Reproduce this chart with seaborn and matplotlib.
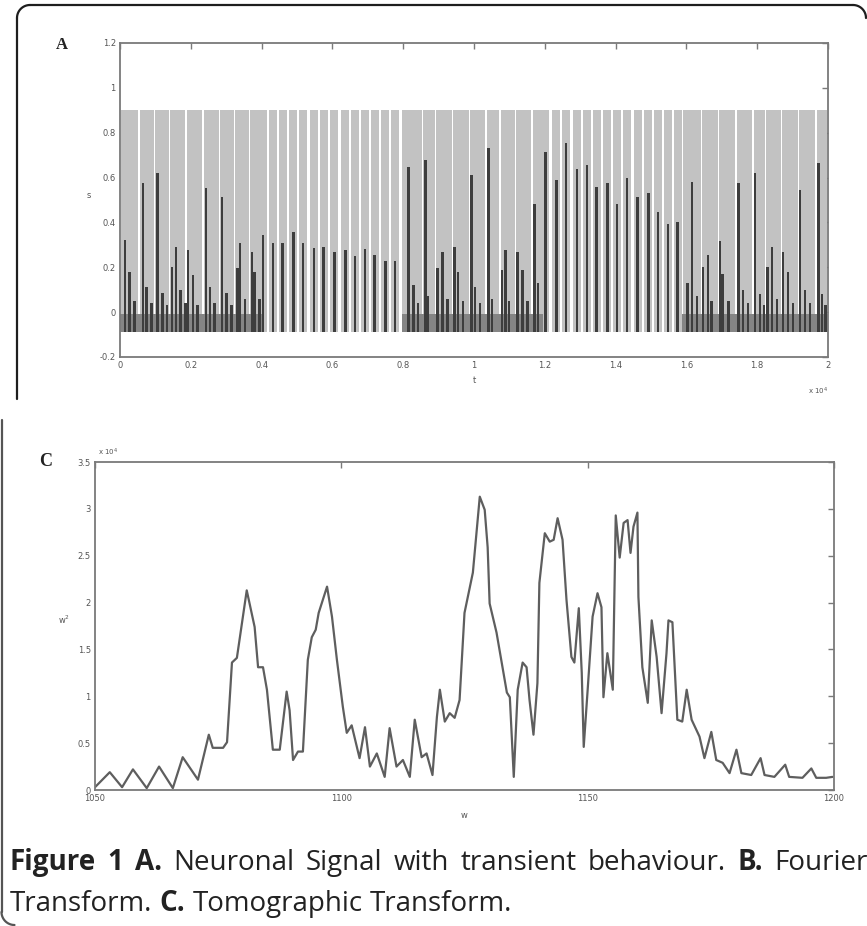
import numpy as np
import pandas as pd
import matplotlib
matplotlib.use("Agg")
import matplotlib.pyplot as plt
import seaborn as sns

sns.set_theme(style="white")
plt.rcParams['font.family'] = ['DejaVu Sans']

# ---------------- Panel A: neuronal signal (t in units of 1e4) ----------------
spike_peak = 0.9
rest_level = -0.09

# bursting stretches: grey envelope of each burst (start, end)
burst_on = [0.004, 0.056, 0.100, 0.142, 0.188, 0.238, 0.283, 0.326, 0.368,
            0.797, 0.856, 0.894, 0.941, 0.989, 1.036, 1.076, 1.120, 1.166,
            1.590, 1.644, 1.692, 1.742, 1.790, 1.826, 1.870, 1.918, 1.968]
burst_off = [0.050, 0.096, 0.138, 0.183, 0.233, 0.279, 0.322, 0.364, 0.398,
             0.852, 0.890, 0.937, 0.985, 1.032, 1.072, 1.116, 1.162, 1.193,
             1.640, 1.688, 1.738, 1.786, 1.822, 1.866, 1.914, 1.964, 1.998]

# tonic stretches: single spikes
tonic_t = [0.404, 0.432, 0.460, 0.489, 0.517, 0.548, 0.576, 0.605, 0.636, 0.664,
           0.692, 0.720, 0.749, 0.777,
           1.201, 1.232, 1.260, 1.291, 1.319, 1.347, 1.376, 1.404, 1.432, 1.463,
           1.492, 1.520, 1.548, 1.576]
tonic_h = [0.343, 0.31, 0.31, 0.357, 0.31, 0.285, 0.29, 0.27, 0.275, 0.25,
           0.28, 0.255, 0.23, 0.23,
           0.715, 0.59, 0.755, 0.64, 0.655, 0.56, 0.575, 0.48, 0.60, 0.515,
           0.53, 0.445, 0.395, 0.40]

# dark sub-threshold events inside the bursts
burst_t = [0.014, 0.028, 0.042, 0.065, 0.076, 0.090, 0.107, 0.121, 0.133,
           0.147, 0.158, 0.172, 0.184, 0.192, 0.206, 0.220, 0.243, 0.254, 0.268,
           0.288, 0.302, 0.316, 0.331, 0.339, 0.353, 0.373, 0.381, 0.393,
           0.814, 0.828, 0.842, 0.862, 0.870, 0.898, 0.910, 0.924, 0.946, 0.955,
           0.969, 0.994, 1.003, 1.017, 1.040, 1.051, 1.079, 1.088, 1.099, 1.124,
           1.136, 1.150, 1.172, 1.181,
           1.602, 1.616, 1.630, 1.647, 1.661, 1.672, 1.695, 1.703, 1.718, 1.746,
           1.760, 1.774, 1.794, 1.808, 1.819, 1.828, 1.842, 1.856, 1.873, 1.887,
           1.901, 1.921, 1.935, 1.949, 1.972, 1.983, 1.994]
burst_h = [0.32, 0.18, 0.05, 0.576, 0.11, 0.04, 0.62, 0.085, 0.03,
           0.20, 0.29, 0.10, 0.04, 0.277, 0.166, 0.03, 0.554, 0.11, 0.04,
           0.515, 0.085, 0.03, 0.197, 0.31, 0.06, 0.27, 0.18, 0.06,
           0.648, 0.12, 0.04, 0.68, 0.07, 0.197, 0.27, 0.06, 0.29, 0.18,
           0.05, 0.61, 0.11, 0.04, 0.73, 0.06, 0.19, 0.277, 0.05, 0.27,
           0.19, 0.05, 0.48, 0.13,
           0.13, 0.58, 0.07, 0.20, 0.255, 0.05, 0.315, 0.17, 0.05, 0.575,
           0.10, 0.04, 0.62, 0.08, 0.03, 0.20, 0.29, 0.06, 0.27, 0.18,
           0.04, 0.545, 0.10, 0.04, 0.665, 0.08, 0.03]

a_xticks = [0, 0.2, 0.4, 0.6, 0.8, 1, 1.2, 1.4, 1.6, 1.8, 2]
a_yticks = [-0.2, 0, 0.2, 0.4, 0.6, 0.8, 1, 1.2]

# ---------------- Panel C: tomographic transform ----------------
tomo_w = [1050.0, 1053.0, 1055.5, 1057.7, 1060.5, 1063.0, 1065.8, 1067.8, 1070.9,
          1073.1, 1073.9, 1076.0, 1076.8, 1077.8, 1078.8, 1080.8, 1082.4, 1083.1,
          1084.1, 1084.9, 1086.1, 1087.5, 1088.9, 1089.5, 1090.2, 1091.2, 1092.2,
          1093.2, 1094.0, 1094.8, 1095.4, 1097.1, 1098.1, 1099.1, 1100.3, 1101.1,
          1102.1, 1103.7, 1104.8, 1105.8, 1107.2, 1108.8, 1109.8, 1111.2, 1112.5,
          1113.9, 1114.9, 1116.3, 1117.3, 1118.5, 1119.4, 1120.0, 1121.0, 1122.0,
          1123.0, 1124.0, 1125.0, 1126.7, 1128.1, 1129.1, 1129.7, 1130.1, 1131.5,
          1133.6, 1134.2, 1135.0, 1135.8, 1136.8, 1137.6, 1138.2, 1139.0, 1139.8,
          1140.2, 1141.3, 1142.3, 1143.1, 1143.9, 1144.9, 1145.7, 1146.7, 1147.3,
          1148.2, 1148.8, 1149.2, 1150.0, 1151.0, 1152.0, 1152.8, 1153.2, 1154.0,
          1155.1, 1155.7, 1156.5, 1157.3, 1158.1, 1158.7, 1159.3, 1160.1, 1160.3,
          1161.1, 1162.2, 1163.0, 1164.0, 1165.0, 1166.0, 1166.4, 1167.2, 1168.2,
          1169.2, 1170.1, 1171.1, 1172.7, 1173.7, 1175.1, 1176.1, 1177.4, 1178.8,
          1180.2, 1181.2, 1183.2, 1185.1, 1185.9, 1187.9, 1190.1, 1190.9, 1193.6,
          1195.4, 1196.4, 1198.4, 1199.7]
tomo_amp = [0.03, 0.19, 0.03, 0.22, 0.02, 0.25, 0.02, 0.35, 0.11,
            0.59, 0.45, 0.45, 0.51, 1.36, 1.41, 2.13, 1.74, 1.31,
            1.31, 1.07, 0.43, 0.43, 1.05, 0.85, 0.32, 0.41, 0.41,
            1.39, 1.63, 1.71, 1.89, 2.17, 1.85, 1.39, 0.89, 0.61,
            0.69, 0.34, 0.67, 0.25, 0.39, 0.14, 0.66, 0.25, 0.32,
            0.14, 0.75, 0.35, 0.39, 0.16, 0.78, 1.07, 0.73, 0.82,
            0.77, 0.96, 1.89, 2.32, 3.13, 2.99, 2.59, 1.99, 1.68,
            1.04, 0.99, 0.14, 1.07, 1.36, 1.31, 0.96, 0.59, 1.14,
            2.21, 2.74, 2.65, 2.67, 2.90, 2.67, 2.03, 1.42, 1.36,
            1.94, 1.25, 0.46, 1.07, 1.85, 2.10, 1.95, 0.99, 1.46,
            1.07, 2.93, 2.48, 2.85, 2.88, 2.53, 2.81, 2.96, 2.06,
            1.31, 0.93, 1.81, 1.42, 0.82, 1.46, 1.81, 1.79, 0.75,
            0.73, 1.07, 0.75, 0.57, 0.34, 0.62, 0.32, 0.29, 0.18,
            0.43, 0.18, 0.16, 0.34, 0.16, 0.14, 0.27, 0.14, 0.13,
            0.23, 0.13, 0.13, 0.14]
c_xticks = [1050, 1100, 1150, 1200]
c_yticks = [0, 0.5, 1, 1.5, 2, 2.5, 3, 3.5]

# caption words as (text, weight)
caption_1 = [("Figure", "bold"), ("1", "bold"), ("A.", "bold"), ("Neuronal", "normal"),
             ("Signal", "normal"), ("with", "normal"), ("transient", "normal"),
             ("behaviour.", "normal"), ("B.", "bold"), ("Fourier", "normal")]
caption_2 = [("Transform.", "normal"), ("C.", "bold"), ("Tomographic", "normal"),
             ("Transform.", "normal")]

# ---------------- figure ----------------
W, H = 867, 926
fig = plt.figure(figsize=(W / 100, H / 100), dpi=100)
fig.patch.set_facecolor("white")


def px_axes(left, top, right, bottom):
    return fig.add_axes([left / W, 1 - bottom / H, (right - left) / W, (bottom - top) / H])


spine_col = "#7a7a7a"
tick_col = "#555555"


def matlab_style(ax):
    for s in ax.spines.values():
        s.set_color(spine_col)
        s.set_linewidth(1.3)
        s.set_visible(True)
    ax.tick_params(direction="in", length=4, width=1.0, color=spine_col,
                   labelsize=6, labelcolor=tick_col, top=True, right=True,
                   labeltop=False, labelright=False, pad=3)
    ax.set_facecolor("white")
    ax.grid(False)


# Panel A
axA = px_axes(120, 43, 828, 357)
grey = "#c2c2c2"
dark = "#3d3d3d"
axA.bar(burst_on, spike_peak - rest_level,
        width=np.array(burst_off) - np.array(burst_on),
        bottom=rest_level, align="edge", color=grey, linewidth=0)
axA.bar(tonic_t, spike_peak - rest_level, width=0.021, bottom=rest_level,
        color=grey, linewidth=0)
for lo, hi in [(0.0, 0.4), (0.797, 1.195), (1.588, 2.0)]:
    axA.fill_between([lo, hi], rest_level, -0.01, color="#858585", linewidth=0)
axA.bar(burst_t, np.array(burst_h) - rest_level, width=0.008, bottom=rest_level,
        color=dark, linewidth=0)
axA.bar(tonic_t, np.array(tonic_h) - rest_level, width=0.008, bottom=rest_level,
        color=dark, linewidth=0)
axA.set_xlim(0, 2)
axA.set_ylim(-0.2, 1.2)
axA.set_xticks(a_xticks)
axA.set_xticklabels([f"{v:g}" for v in a_xticks])
axA.set_yticks(a_yticks)
axA.set_yticklabels([f"{v:g}" for v in a_yticks])
matlab_style(axA)
axA.set_xlabel("t", fontsize=6, color=tick_col, labelpad=4)
axA.set_ylabel("s", fontsize=6, color=tick_col, labelpad=8, rotation=0)

# Panel C
axC = px_axes(95, 462, 834, 790)
sns.lineplot(x=tomo_w, y=tomo_amp, ax=axC, color="#5e5e5e", linewidth=1.6,
             sort=False, estimator=None)
axC.set_xlim(1050, 1200)
axC.set_ylim(0, 3.5)
axC.set_xticks(c_xticks)
axC.set_xticklabels([str(v) for v in c_xticks])
axC.set_yticks(c_yticks)
axC.set_yticklabels([f"{v:g}" for v in c_yticks])
matlab_style(axC)
axC.set_xlabel("w", fontsize=6, color=tick_col, labelpad=6)
axC.set_ylabel("w$^2$", fontsize=6, color=tick_col, labelpad=10, rotation=0)

# overlay for frames, panel letters, exponents and caption
ov = fig.add_axes([0, 0, 1, 1], zorder=5)
ov.set_xlim(0, W)
ov.set_ylim(H, 0)
ov.axis("off")
ov.patch.set_alpha(0)


def arc(cx, cy, r, a0, a1):
    a = np.linspace(np.radians(a0), np.radians(a1), 20)
    return cx + r * np.cos(a), cy + r * np.sin(a)


fc = "#1e1e1e"
r = 13
xs, ys = arc(17 + r, 5 + r, r, 180, 270)
ov.plot([17, 17], [399, 5 + r], color=fc, lw=1.6)
ov.plot(xs, ys, color=fc, lw=1.6)
ov.plot([17 + r, 866 - r], [5, 5], color=fc, lw=1.6)
xs, ys = arc(866 - r, 5 + r, r, 270, 360)
ov.plot(xs, ys, color=fc, lw=1.6)

ov.plot([1.5, 1.5], [420, 925 - r], color="#555555", lw=1.6)
xs, ys = arc(1.5 + r, 925 - r, r, 90, 180)
ov.plot(xs, ys, color="#555555", lw=1.6)

ov.text(62, 45, "A", fontsize=12, fontweight="bold", family="Liberation Serif",
        color="#222222", ha="center", va="center")
ov.text(46, 461, "C", fontsize=13, fontweight="bold", family="Liberation Serif",
        color="#222222", ha="center", va="center")
ov.text(828, 391, r"x 10$^4$", fontsize=5, color=tick_col, ha="right", va="center")
ov.text(98, 452, r"x 10$^4$", fontsize=5, color=tick_col, ha="left", va="center")

# caption: first line justified to the right edge, second line ragged
renderer = fig.canvas.get_renderer()
cap_size = 20.0
cap_font = "Open Sans"


def seg_width(s, weight):
    t = ov.text(0, 0, s, fontsize=cap_size, family=cap_font, fontweight=weight)
    w = t.get_window_extent(renderer).width
    t.remove()
    return w


space_w = seg_width("a a", "normal") - seg_width("aa", "normal")


def caption_line(y, words, right=None):
    x0 = 10
    widths = [seg_width(s, wt) for s, wt in words]
    gap = space_w
    if right is not None:
        gap = (right - x0 - sum(widths)) / (len(words) - 1)
    x = x0
    for (s, wt), w in zip(words, widths):
        ov.text(x, y, s, fontsize=cap_size, family=cap_font, fontweight=wt,
                color="#222222", ha="left", va="baseline")
        x += w + gap


caption_line(870, caption_1, right=868)
caption_line(911, caption_2)

fig.savefig("out.png", dpi=100, facecolor="white")
